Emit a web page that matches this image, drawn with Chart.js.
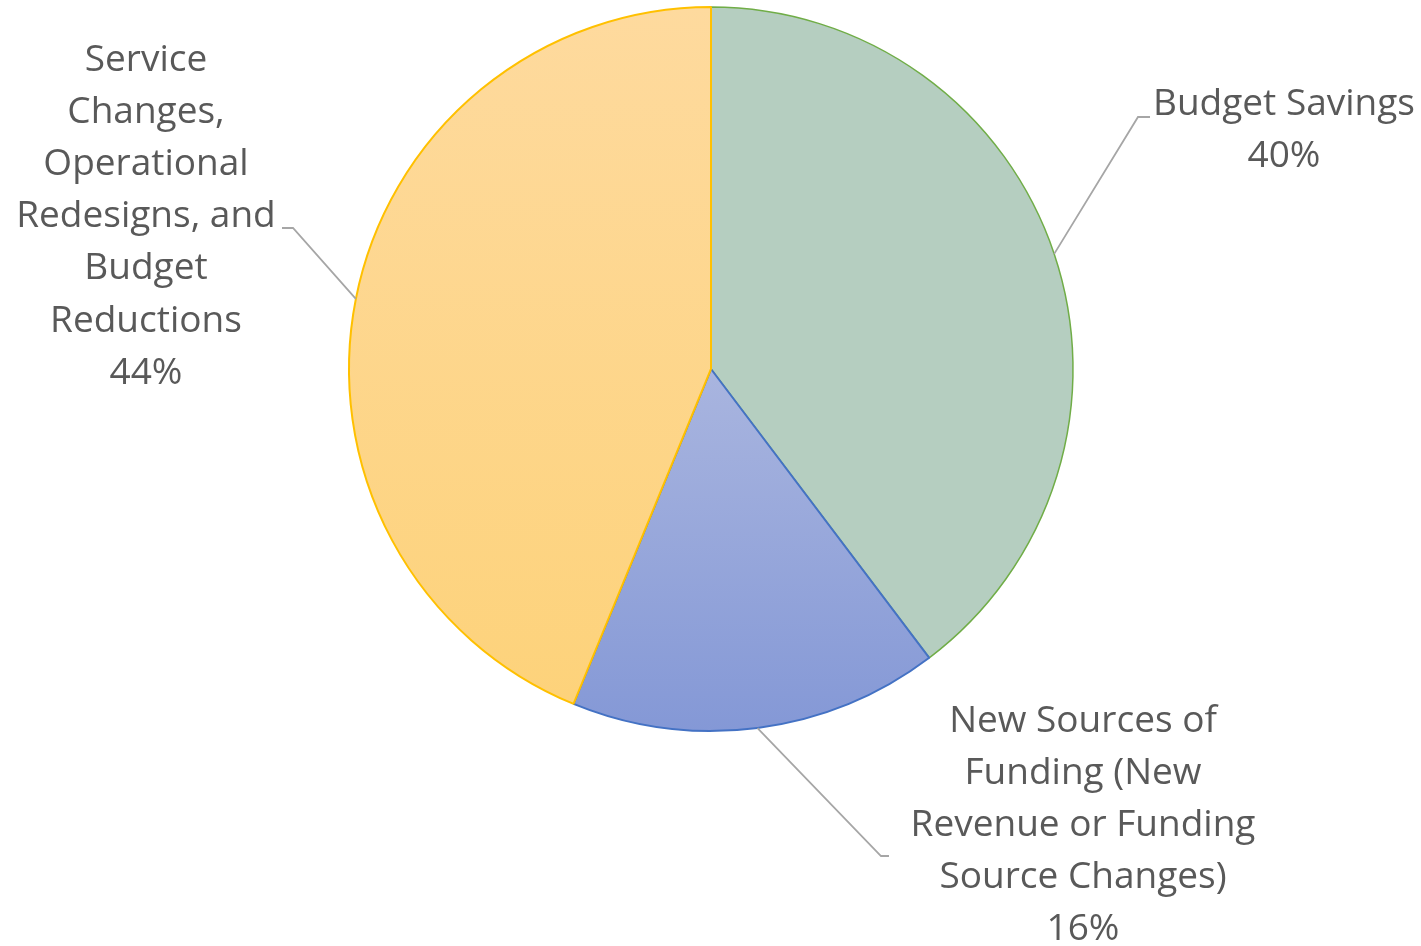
<!DOCTYPE html>
<html>
<head>
<meta charset="utf-8">
<script src="https://cdn.jsdelivr.net/npm/chart.js@4/dist/chart.umd.min.js"></script>
<style>
  html, body { margin: 0; padding: 0; background: #fff; }
  #wrap { width: 1421px; height: 946px; }
</style>
</head>
<body>
<div id="wrap"><canvas id="pie" width="1421" height="946"></canvas></div>
<script>
// Slice data
const categories = [
    ['Budget Savings'],
    ['New Sources of', 'Funding (New', 'Revenue or Funding', 'Source Changes)'],
    ['Service', 'Changes,', 'Operational', 'Redesigns, and', 'Budget', 'Reductions']
];
const shares = [39.7, 16.5, 43.8];
const percentLabels = ['40%', '16%', '44%'];

// Label placement: text centre x, first line y, leader elbow point
const labelLayout = [
    { x: 1284, y: 104, elbowX: 1138, elbowY: 117, endX: 1150 },
    { x: 1083, y: 721, elbowX: 881, elbowY: 856, endX: 889 },
    { x: 146, y: 60, elbowX: 293, elbowY: 228, endX: 282 }
];

const lineHeight = 52.2;
const labelFont = "37px 'Open Sans', 'Noto Sans', sans-serif";

function sliceFill(context) {
    const chart = context.chart;
    const area = chart.chartArea;
    if (!area) return '#ccc';
    const ctx = chart.ctx;
    const top = area.top, bottom = area.bottom, mid = (top + bottom) / 2;
    if (context.dataIndex === 0) return '#b5cec0';
    if (context.dataIndex === 1) {
        const g = ctx.createLinearGradient(0, mid, 0, bottom);
        g.addColorStop(0, '#a9b5df');
        g.addColorStop(1, '#8498d6');
        return g;
    }
    const g = ctx.createLinearGradient(0, top, 0, bottom);
    g.addColorStop(0, '#feda9e');
    g.addColorStop(1, '#fdd279');
    return g;
}

// Draws leader lines and the multi-line data labels
const calloutPlugin = {
    id: 'callouts',
    afterDatasetsDraw(chart) {
        const ctx = chart.ctx;
        const arcs = chart.getDatasetMeta(0).data;
        ctx.save();
        arcs.forEach((arc, i) => {
            const lay = labelLayout[i];
            const midAngle = (arc.startAngle + arc.endAngle) / 2;
            const sx = arc.x + Math.cos(midAngle) * arc.outerRadius;
            const sy = arc.y + Math.sin(midAngle) * arc.outerRadius;
            ctx.strokeStyle = '#a6a6a6';
            ctx.lineWidth = 1.8;
            ctx.beginPath();
            ctx.moveTo(sx, sy);
            ctx.lineTo(lay.elbowX, lay.elbowY);
            ctx.lineTo(lay.endX, lay.elbowY);
            ctx.stroke();

            ctx.fillStyle = '#595959';
            ctx.font = labelFont;
            ctx.textAlign = 'center';
            ctx.textBaseline = 'middle';
            const lines = categories[i].concat([percentLabels[i]]);
            lines.forEach((t, k) => {
                ctx.fillText(t, lay.x, lay.y + k * lineHeight);
            });
        });
        ctx.restore();
    }
};

new Chart(document.getElementById('pie'), {
    type: 'pie',
    data: {
        labels: categories.map(c => c.join(' ')),
        datasets: [{
            data: shares,
            backgroundColor: sliceFill,
            borderColor: ['#70ad47', '#4472c4', '#ffc000'],
            borderWidth: [1.5, 2, 2]
        }]
    },
    options: {
        responsive: false,
        animation: false,
        layout: {
            padding: { left: 348, right: 347, top: 6, bottom: 214 }
        },
        plugins: {
            legend: { display: false },
            tooltip: { enabled: false }
        }
    },
    plugins: [calloutPlugin]
});
</script>
</body>
</html>
